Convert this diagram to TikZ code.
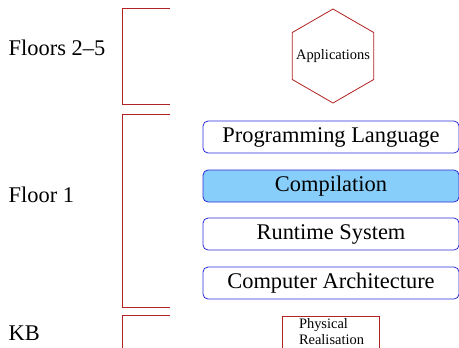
\documentclass[tikz,border=0pt]{standalone}
\usepackage{fontspec}
\setmainfont{Liberation Serif}
\definecolor{brick}{HTML}{B22222}
\definecolor{royal}{HTML}{2A2AD8}
\definecolor{sky}{HTML}{87CEFA}

\begin{document}
\begin{tikzpicture}[x=1bp, y=-1bp, line width=0.8bp,
  big/.style={font=\fontsize{22.5}{27}\selectfont},
  small/.style={font=\fontsize{14.5}{16}\selectfont},
  layer/.style={big, draw=royal, rounded corners=5bp, minimum width=256bp, minimum height=32bp, inner sep=0pt}]
  \clip (0,0) rectangle (459,347);
  % floor brackets
  \draw[brick] (170,8) -| (122,104) -- (170,104);
  \draw[brick] (170,114) -| (122,307) -- (170,307);
  \draw[brick] (170,315) -| (122,360);
  \node[big, anchor=west] (upper) at (5,48) {Floors 2--5};
  \node[big, anchor=west] (first) at (5,195) {Floor 1};
  \node[big, anchor=west] (kb) at (5,333) {KB};
  % layers
  \node[small] (apps) at (333,56) {Applications};
  \draw[brick] (apps.center) +(90:47) \foreach \a in {150,210,270,330,390} { -- +(\a:47) } -- cycle;
  \node[layer] (lang) at (331,137) {Programming Language};
  \node[layer, fill=sky] (comp) at (331,186) {Compilation};
  \node[layer] (rts) at (331,234) {Runtime System};
  \node[layer] (arch) at (331,283) {Computer Architecture};
  \node[small, anchor=north, align=left, minimum width=97bp, inner ysep=2bp] (phys) at (331.5,316) {Physical\\Realisation};
  \draw[brick] (phys.north west) rectangle ++(97,40);
\end{tikzpicture}
\end{document}
